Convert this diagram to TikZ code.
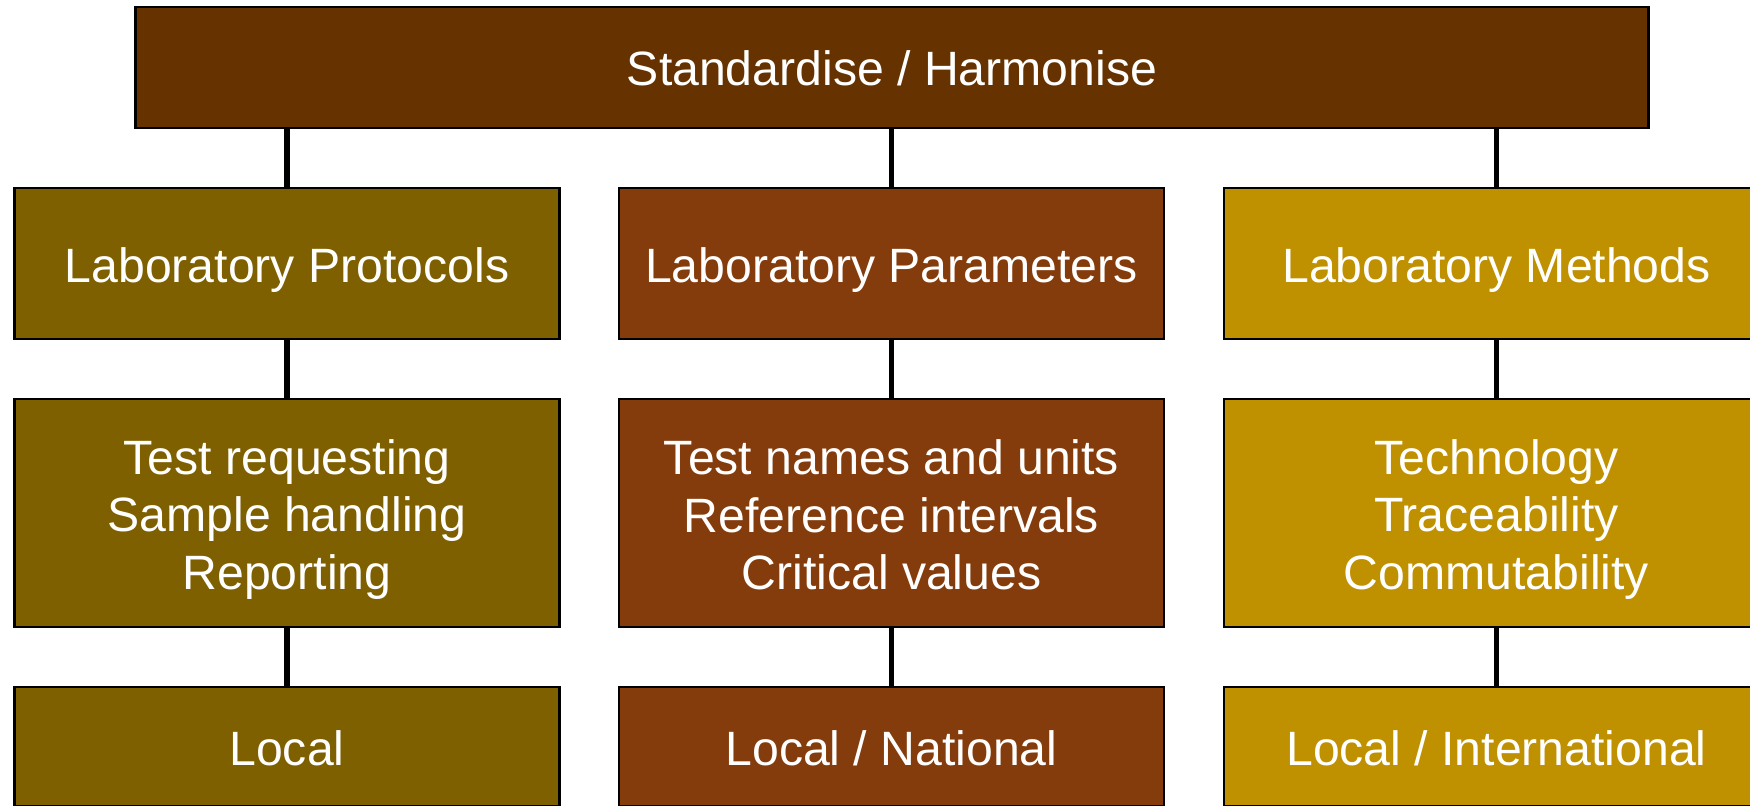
\documentclass[tikz,border=0pt]{standalone}
\usepackage{fontspec}
\setmainfont{Liberation Sans}
\definecolor{topbrown}{HTML}{663300}
\definecolor{olive}{HTML}{7F6000}
\definecolor{rust}{HTML}{843C0C}
\definecolor{gold}{HTML}{BF9000}
\tikzset{
  box/.style={draw=black, line width=0.7pt, rectangle, inner sep=0pt},
  txt/.style={text=white, align=center, inner sep=0pt,
    font=\fontsize{13.7pt}{16.4pt}\selectfont},
  caption/.style 2 args={label={[txt, yshift=#1]center:{#2}}},
  link/.style={draw=black, line width=1.7pt}
}
\begin{document}
\begin{tikzpicture}[x=0.01cm, y=-0.01cm]
  \useasboundingbox (0,0) rectangle (1750,805);
  \clip (0,0) rectangle (1750,805);
  % root
  \node[box, fill=topbrown, minimum width=15.12cm, minimum height=1.21cm,
        caption={-0.005cm}{Standardise / Harmonise}] (root) at (892,67.5) {};
  % first level
  \node[box, fill=olive, minimum width=5.445cm, minimum height=1.51cm,
        caption={-0.065cm}{Laboratory Protocols}] (p1) at (287,263.5) {};
  \node[box, fill=rust, minimum width=5.45cm, minimum height=1.51cm,
        caption={-0.065cm}{Laboratory Parameters}] (p2) at (891.5,263.5) {};
  \node[box, fill=gold, minimum width=5.45cm, minimum height=1.51cm,
        caption={-0.065cm}{Laboratory Methods}] (p3) at (1496.5,263.5) {};
  % second level
  \node[box, fill=olive, minimum width=5.445cm, minimum height=2.28cm,
        caption={-0.065cm}{Test requesting\\Sample handling\\Reporting}] (d1) at (287,513) {};
  \node[box, fill=rust, minimum width=5.45cm, minimum height=2.28cm,
        caption={-0.02cm}{Test names and units\\Reference intervals\\Critical values}] (d2) at (891.5,513) {};
  \node[box, fill=gold, minimum width=5.45cm, minimum height=2.28cm,
        caption={-0.065cm}{Technology\\Traceability\\Commutability}] (d3) at (1496.5,513) {};
  % third level
  \node[box, fill=olive, minimum width=5.445cm, minimum height=1.19cm,
        caption={-0.02cm}{Local}] (s1) at (287,746.5) {};
  \node[box, fill=rust, minimum width=5.45cm, minimum height=1.19cm,
        caption={-0.02cm}{Local / National}] (s2) at (891.5,746.5) {};
  \node[box, fill=gold, minimum width=5.45cm, minimum height=1.19cm,
        caption={-0.02cm}{Local / International}] (s3) at (1496.5,746.5) {};
  % connectors
  \foreach \i in {1,2,3}{
    \draw[link] (p\i.north) -- (p\i.north |- root.south);
    \draw[link] (p\i.south) -- (d\i.north);
    \draw[link] (d\i.south) -- (s\i.north);
  }
\end{tikzpicture}
\end{document}
